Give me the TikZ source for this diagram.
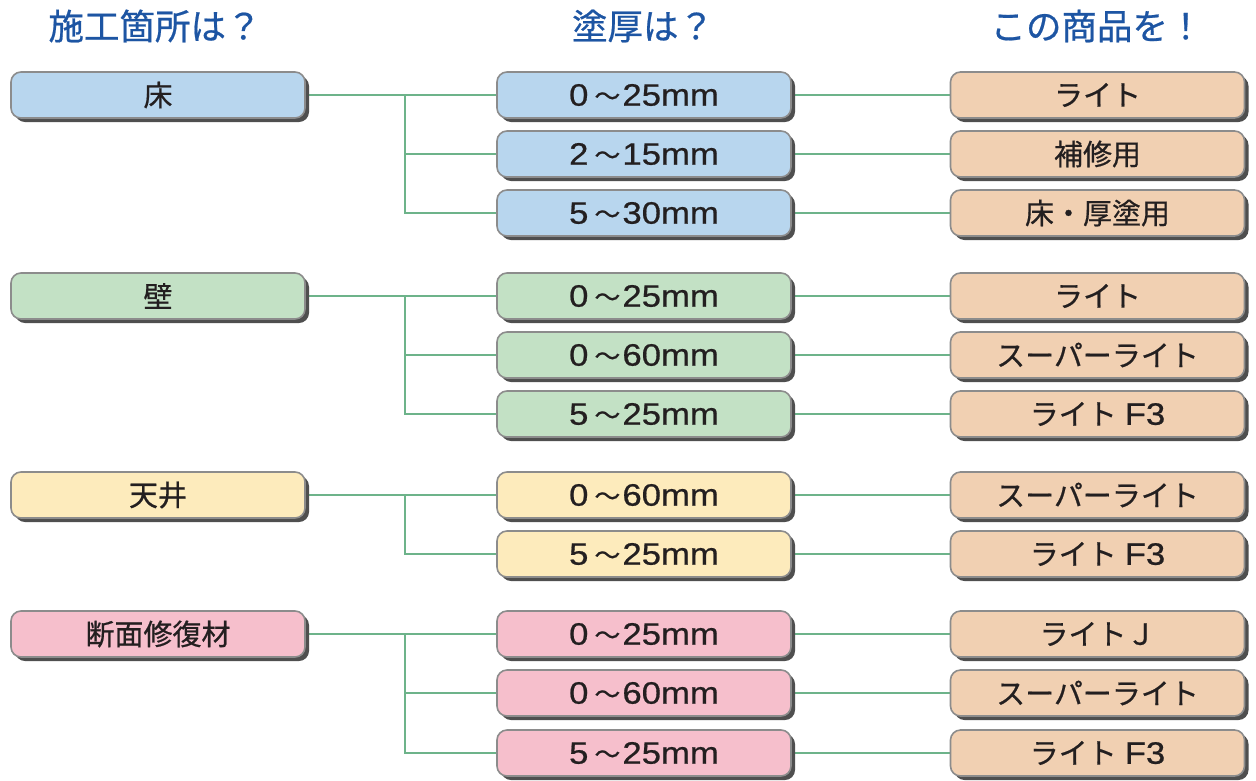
\documentclass[tikz,border=0pt]{standalone}
\usepackage{fontspec}
\setmainfont{Noto Sans CJK JP}[FakeBold=0.6]
\newfontfamily\latf{Liberation Sans}[FakeStretch=1.12,FakeBold=0.6]
\usetikzlibrary{shadows,backgrounds}
\definecolor{headc}{HTML}{1D55A3}
\definecolor{textc}{HTML}{231F20}
\definecolor{borderc}{HTML}{8C8C8C}
\definecolor{shadowc}{HTML}{4F4F4F}
\definecolor{connc}{HTML}{6DB38A}
\definecolor{bluec}{HTML}{B8D6EE}
\definecolor{greenc}{HTML}{C3E1C5}
\definecolor{yellowc}{HTML}{FDEBBC}
\definecolor{pinkc}{HTML}{F6BFCC}
\definecolor{orangec}{HTML}{F1D0B2}
\newcommand{\rngtxt}[2]{{\latf\fontsize{31}{32}\selectfont #1}\hspace{6pt}{\fontsize{26}{28}\selectfont ～}\hspace{2pt}{\latf\fontsize{31}{32}\selectfont #2mm}}
\newcommand{\fthree}{ライト\hspace{8pt}{\latf\fontsize{31}{32}\selectfont F3}}
\begin{document}
\begin{tikzpicture}[x=1pt,y=-1pt,
  box/.style={draw=borderc, line width=1.6pt, rounded corners=10pt,
    minimum width=294pt, minimum height=46pt, inner sep=0pt,
    font=\fontsize{29}{32}\selectfont, text=textc,
    drop shadow={shadow xshift=4pt, shadow yshift=-4pt, opacity=1, fill=shadowc}},
  head/.style={font=\fontsize{35.5}{38}\selectfont, text=headc, inner sep=0pt},
  conn/.style={draw=connc, line width=2pt}]
\useasboundingbox (0,0) rectangle (1256,780);
% headers
\node[head] (H1) at (155,26) {施工箇所は？};
\node[head] (H2) at (643,26) {塗厚は？};
\node[head] (H3) at (1097,26) {この商品を！};
% left column
\node[box, fill=bluec] (L1) at (158,95) {床};
\node[box, fill=greenc] (L2) at (158,296) {壁};
\node[box, fill=yellowc] (L3) at (158,495) {天井};
\node[box, fill=pinkc] (L4) at (158,634) {断面修復材};
% middle column
\node[box, fill=bluec] (M1) at (644,95) {\rngtxt{0}{25}};
\node[box, fill=bluec] (M2) at (644,154) {\rngtxt{2}{15}};
\node[box, fill=bluec] (M3) at (644,213) {\rngtxt{5}{30}};
\node[box, fill=greenc] (M4) at (644,296) {\rngtxt{0}{25}};
\node[box, fill=greenc] (M5) at (644,355) {\rngtxt{0}{60}};
\node[box, fill=greenc] (M6) at (644,414) {\rngtxt{5}{25}};
\node[box, fill=yellowc] (M7) at (644,495) {\rngtxt{0}{60}};
\node[box, fill=yellowc] (M8) at (644,554) {\rngtxt{5}{25}};
\node[box, fill=pinkc] (M9) at (644,634) {\rngtxt{0}{25}};
\node[box, fill=pinkc] (M10) at (644,693) {\rngtxt{0}{60}};
\node[box, fill=pinkc] (M11) at (644,753) {\rngtxt{5}{25}};
% right column
\node[box, fill=orangec] (R1) at (1097.5,95) {ライト};
\node[box, fill=orangec] (R2) at (1097.5,154) {補修用};
\node[box, fill=orangec] (R3) at (1097.5,213) {床・厚塗用};
\node[box, fill=orangec] (R4) at (1097.5,296) {ライト};
\node[box, fill=orangec] (R5) at (1097.5,355) {スーパーライト};
\node[box, fill=orangec] (R6) at (1097.5,414) {\fthree};
\node[box, fill=orangec] (R7) at (1097.5,495) {スーパーライト};
\node[box, fill=orangec] (R8) at (1097.5,554) {\fthree};
\node[box, fill=orangec] (R9) at (1097.5,634) {ライトＪ};
\node[box, fill=orangec] (R10) at (1097.5,693) {スーパーライト};
\node[box, fill=orangec] (R11) at (1097.5,753) {\fthree};
\coordinate (J) at (405,0);
\begin{pgfonlayer}{background}
\draw[conn] (L1.east) -- (M1.west);
\draw[conn] (L1.east -| J) |- (M2.west);
\draw[conn] (L1.east -| J) |- (M3.west);
\draw[conn] (L2.east) -- (M4.west);
\draw[conn] (L2.east -| J) |- (M5.west);
\draw[conn] (L2.east -| J) |- (M6.west);
\draw[conn] (L3.east) -- (M7.west);
\draw[conn] (L3.east -| J) |- (M8.west);
\draw[conn] (L4.east) -- (M9.west);
\draw[conn] (L4.east -| J) |- (M10.west);
\draw[conn] (L4.east -| J) |- (M11.west);
\foreach \i in {1,...,11} {\draw[conn] (M\i.east) -- (R\i.west);}
\end{pgfonlayer}
\end{tikzpicture}
\end{document}
